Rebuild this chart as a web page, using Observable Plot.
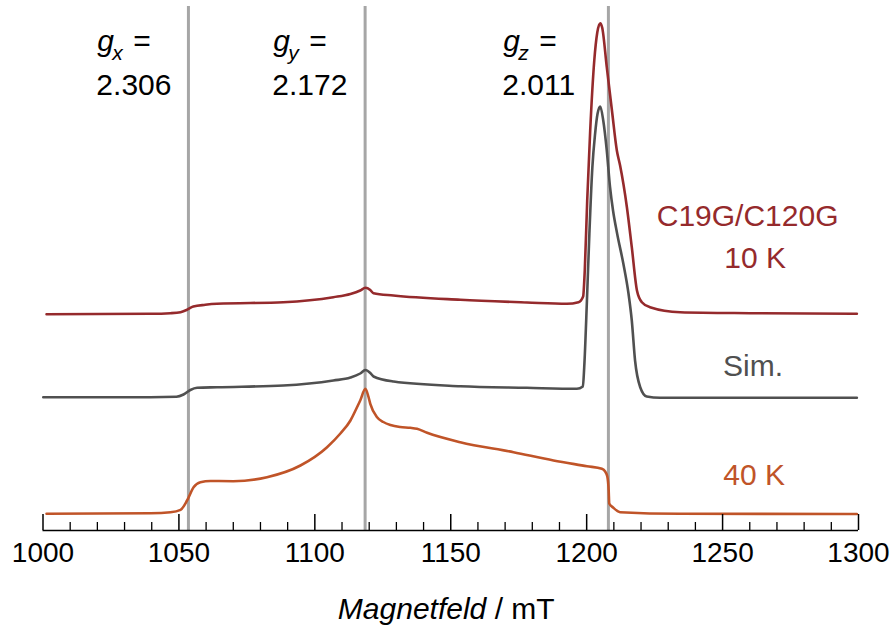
<!DOCTYPE html>
<html><head><meta charset="utf-8">
<script src="https://cdn.jsdelivr.net/npm/d3@7"></script>
<script src="https://cdn.jsdelivr.net/npm/@observablehq/plot@0.6"></script>
<style>body{margin:0;background:#fff} svg{display:block}</style>
</head><body><div id="chart"></div>
<script>
// ---- Data (field in mT, intensity in arbitrary units relative to each trace's baseline) ----
const redField  = [1001.3,1039.5,1046.9,1050.6,1052.8,1055.3,1059.7,1064.0,1088.4,1106.8,1113.1,1116.7,1118.6,1120.4,1121.6,1128.9,1153.5,1178.0,1192.7,1197.0,1198.7,1199.3,1200.2,1201.3,1202.8,1203.9,1205.0,1205.7,1207.4,1209.3,1211.1,1212.3,1214.8,1216.6,1218.5,1220.3,1223.3,1234.4,1260.1,1299.4];
const redSignal = [-0.2,0.2,0.8,1.8,4,7.5,9.2,10.2,11.8,16.8,20,23.5,26.2,24,20.8,18.5,14.2,11.5,10.2,11.8,17.5,43.5,113.5,183.5,253.5,281.5,290.8,286.5,246.8,203.5,163.5,148.5,106.8,66.8,23.5,11.8,6.8,1.8,0.8,0.2];

const simField  = [1000.1,1039.5,1049.1,1051.7,1054.2,1056.7,1064.0,1088.4,1106.8,1113.1,1116.7,1118.6,1120.4,1121.6,1129.0,1153.5,1178.0,1196.4,1198.6,1199.1,1200.1,1201.0,1202.1,1203.1,1204.0,1205.0,1206.1,1207.4,1208.6,1209.7,1211.2,1213.5,1215.4,1216.6,1217.8,1219.7,1222.1,1227.0,1299.4];
const simSignal = [0.3,0.3,0.7,3,7.5,9.7,10.3,12,17,20,24,27.5,24.5,21,16,11.3,9.7,8.7,11,30.3,97,164,230.3,263.7,283.7,291,277,247,210.3,187,164,133.7,103.7,77,37,10.3,1,-0.3,-0.3];

const k40Field  = [1001.3,1039.5,1046.9,1050.6,1053.0,1055.4,1057.9,1061.6,1070.0,1082.4,1094.7,1104.5,1109.4,1113.1,1115.3,1116.7,1118.6,1119.7,1120.4,1122.9,1125.2,1127.8,1131.4,1135.1,1137.6,1141.3,1153.5,1173.1,1187.8,1200.1,1205.6,1206.8,1207.6,1208.1,1208.3,1209.7,1212.3,1234.4,1299.4];
const k40Signal = [0,0.6,1.6,4,13.3,26.6,31.6,32.8,32.6,36.6,48.3,66.6,80.3,93.3,105.3,113.3,125,117.3,110,96.6,91.8,88.8,86.8,86,85,81,71.6,61.6,53.3,47.6,45,42.3,37.3,23.3,10.3,6.3,1.6,0,-0.2];

const seriesNames   = ["C19G/C120G 10 K", "Sim.", "40 K"];
const seriesOffsets = [216.5, 133, 16.7];
const seriesColors  = ["#952a2c", "#505050", "#c05428"];

// g-tensor principal values and their resonance fields
const gSubscripts = ["x", "y", "z"];
const gValues     = ["2.306", "2.172", "2.011"];
const gFields     = [1053.5, 1118.5, 1208.0];
const gLabelField = [1020.0, 1084.7, 1169.3];

// trace labels
const traceLabels      = ["C19G/C120G", "10 K", "Sim.", "40 K"];
const traceLabelColors = ["#952a2c", "#952a2c", "#505050", "#c05428"];
const traceLabelField  = [1259.2, 1262.0, 1261.2, 1261.6];
const traceLabelLevel  = [305, 263, 155, 46];

const majorTicks = d3.range(1000, 1301, 50);
const minorTicks = d3.range(1000, 1301, 10).filter(v => v % 50 !== 0);

// ---- Build table ----
const fields = [redField, simField, k40Field];
const signals = [redSignal, simSignal, k40Signal];
const rows = [];
seriesNames.forEach((name, i) => {
  fields[i].forEach((f, j) => rows.push({series: name, field: f, value: signals[i][j] + seriesOffsets[i]}));
});
const gRows = gFields.map((f, i) => ({field: f, lx: gLabelField[i], sub: gSubscripts[i], val: gValues[i]}));
const tRows = traceLabels.map((t, i) => ({text: t, color: traceLabelColors[i], x: traceLabelField[i], y: traceLabelLevel[i]}));

const font = "Liberation Sans, Arial, Helvetica, sans-serif";

const chart = Plot.plot({
  width: 896,
  height: 634,
  marginLeft: 42.5,
  marginRight: 38,
  marginTop: 6,
  marginBottom: 104,
  style: {fontFamily: font, background: "#fff"},
  x: {domain: [1000, 1300]},
  y: {domain: [0, 524], axis: null},
  color: {domain: seriesNames, range: seriesColors},
  marks: [
    Plot.ruleX(gRows, {x: "field", y1: 0, y2: 524, stroke: "#a6a6a6", strokeWidth: 3}),
    Plot.line(rows, {x: "field", y: "value", z: "series", stroke: "series", strokeWidth: 2.6, curve: "monotone-x"}),
    Plot.ruleY([0], {stroke: "#000", strokeWidth: 1.5}),
    Plot.ruleX(majorTicks, {x: d => d, y1: 0, y2: 16, stroke: "#000", strokeWidth: 1.5}),
    Plot.ruleX(minorTicks, {x: d => d, y1: 0, y2: 8, stroke: "#000", strokeWidth: 1.3}),
    Plot.axisX({ticks: majorTicks, tickSize: 0, tickPadding: 12, fontSize: 28, tickFormat: d3.format("d"), label: null, fill: "#000"}),
    // g labels
    Plot.text(gRows, {x: "lx", y: 480, text: () => "g", textAnchor: "start", lineAnchor: "bottom", fontSize: 30, fontStyle: "italic", fill: "#000"}),
    Plot.text(gRows, {x: "lx", y: 480, text: "sub", dx: 15, dy: 9.5, textAnchor: "start", lineAnchor: "bottom", fontSize: 21, fontStyle: "italic", fill: "#000"}),
    Plot.text(gRows, {x: "lx", y: 480, text: () => "=", dx: 36, textAnchor: "start", lineAnchor: "bottom", fontSize: 30, fill: "#000"}),
    Plot.text(gRows, {x: "lx", y: 436, text: "val", dx: -1, textAnchor: "start", lineAnchor: "bottom", fontSize: 30, fill: "#000"}),
    // trace labels
    Plot.text(tRows, {x: "x", y: "y", text: "text", fill: "color", textAnchor: "middle", lineAnchor: "bottom", fontSize: 30})
  ]
});

const svg = d3.select(chart);
const xs = chart.scale("x");
const cx = (xs.range[0] + xs.range[1]) / 2 - 4;
const title = svg.append("text")
  .attr("x", cx).attr("y", 619)
  .attr("text-anchor", "middle")
  .attr("font-family", font)
  .attr("font-size", 30)
  .attr("fill", "#000");
title.append("tspan").attr("font-style", "italic").text("Magnetfeld");
title.append("tspan").text(" / mT");

document.getElementById("chart").appendChild(chart);
</script>
</body></html>
